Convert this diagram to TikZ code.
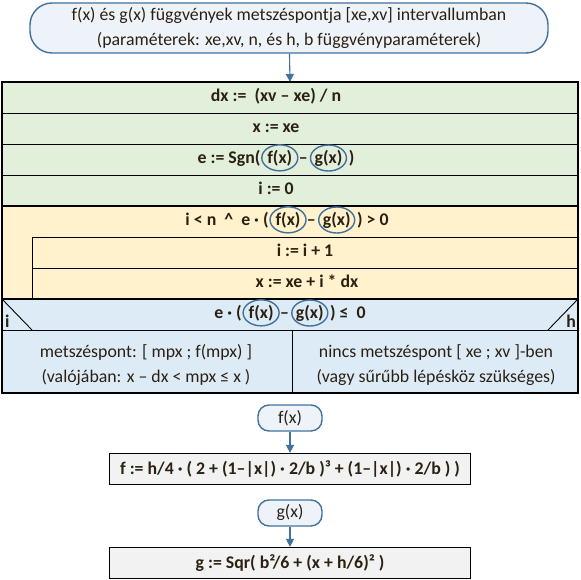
\documentclass[tikz,border=0pt]{standalone}
\usepackage{fontspec}
\setmainfont{Carlito}
\usetikzlibrary{arrows.meta}

\definecolor{zold}{HTML}{E2EFDA}
\definecolor{sarga}{HTML}{FFF2CC}
\definecolor{kek}{HTML}{DDEBF7}
\definecolor{keret}{HTML}{41719C}
\definecolor{szurke}{HTML}{F2F2F2}
\definecolor{halvany}{HTML}{EEF3FA}
\definecolor{betu}{HTML}{2B2113}

\tikzset{
  vekony/.style={line width=0.9pt},
  vastag/.style={line width=2pt},
  felirat/.style={inner sep=0pt, text=betu, text height=0.92em, text depth=0.2em, font=\fontsize{17.8}{21}\selectfont\bfseries},
  szoveg/.style={inner sep=0pt, text=betu, align=center, font=\fontsize{17.8}{25}\selectfont},
  korvonal/.style={draw=keret, line width=1.4pt},
  indul/.style={draw=keret, line width=1.4pt, fill=halvany, text=betu, rounded corners=22pt, align=center, font=\fontsize{17.8}{25}\selectfont},
  fv/.style={draw=keret, line width=1.4pt, fill=halvany, text=betu, rounded corners=11pt, minimum width=64, minimum height=26, inner sep=0pt, font=\fontsize{17.8}{21}\selectfont},
  keplet/.style={draw, line width=1.2pt, fill=szurke, text=betu, minimum width=361, minimum height=31, inner sep=0pt, font=\fontsize{17.8}{21}\selectfont\bfseries},
  nyil/.style={draw=keret, line width=1.1pt, -{Triangle[length=8pt,width=8pt]}}
}
% bekarikazott fuggvenyhivas
\newcommand\kor[1]{\kern1.5pt\tikz[baseline=(k.base)]{\node[inner xsep=5.5pt, inner ysep=0pt](k){#1};
  \draw[korvonal, overlay] (k.center) ellipse[x radius=18pt, y radius=13pt];}\kern1pt}

\begin{document}
\begin{tikzpicture}[x=1pt,y=-1pt]
\useasboundingbox (0,0) rectangle (580,580);

% fejlec
\node[indul, minimum width=518, minimum height=50] (cim) at (289,28)
  {f(x) és g(x) függvények metszéspontja [xe,xv] intervallumban\\(paraméterek: xe,xv, n, és h, b függvényparaméterek)};
\coordinate (struktura) at (290,82);
\draw[nyil] (cim) -- (struktura);

% struktogram
\fill[zold] (2,82) rectangle (578,206);
\fill[sarga] (2,206) rectangle (578,299);
\fill[kek] (2,299) rectangle (578,393);
\foreach \y in {113,144,175}
  \draw[vekony] (2,\y) -- (578,\y);
\draw[vekony] (32,237) rectangle (578,299);
\draw[vekony] (32,268) -- (578,268);
\draw[vekony] (2,330) -- (578,330) (292,330) -- (292,393);
\draw[vekony] (2,299) -- (32,330) (578,299) -- (548,330);
\draw[vastag] (2,206) -- (578,206) (2,299) -- (578,299);
\draw[vastag] (2,82) rectangle (578,393);

\node[felirat] (dx) at (276,97.5) {dx :=\ \ (xv – xe) / n};
\node[felirat] (x0) at (276,128.5) {x := xe};
\node[felirat] (e) at (276,159.5) {e := Sgn(\kor{f(x)}–\kor{g(x)})};
\node[felirat] (i0) at (276,190.5) {i := 0};
\node[felirat] (ciklus) at (287,221.5) {i < n\ \ \textasciicircum\ \ e · (\kor{f(x)}–\kor{g(x)}) > 0};
\node[felirat] (ilep) at (305,252.5) {i := i + 1};
\node[felirat] (xlep) at (307,283.5) {x := xe + i * dx};
\node[felirat] (feltetel) at (290,314.5) {e · (\kor{f(x)}–\kor{g(x)}) ≤\ \ 0};
\node[felirat, anchor=base west] (igen) at (5,327) {i};
\node[felirat, anchor=base east] (nem) at (576,327) {h};
\node[szoveg] (van) at (146,365) {metszéspont: [ mpx ; f(mpx) ]\\(valójában: x – dx < mpx ≤ x )};
\node[szoveg] (nincs) at (436,365) {nincs metszéspont [ xe ; xv ]-ben\\(vagy sűrűbb lépésköz szükséges)};

% fuggvenyek
\node[fv] (fx) at (290,418) {f(x)};
\node[keplet] (fkep) at (290,469) {f := h/4 · ( 2 + (1–|x|) · 2/b )³ + (1–|x|) · 2/b ) )};
\node[fv] (gx) at (290,513) {g(x)};
\node[keplet] (gkep) at (290,563) {g := Sqr( b²/6 + (x + h/6)² )};
\draw[nyil] (fx) -- (fkep);
\draw[nyil] (gx) -- (gkep);
\end{tikzpicture}
\end{document}
